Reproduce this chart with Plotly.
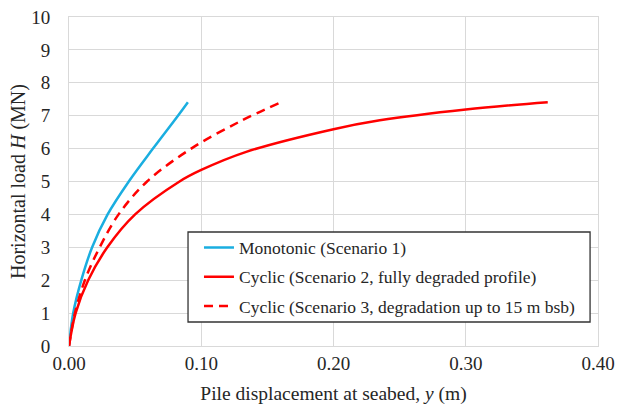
import plotly.graph_objects as go

# Monotonic (Scenario 1)
mono_y = [0, 0.0032, 0.0093, 0.0175, 0.0292, 0.0452, 0.0635, 0.0824, 0.0899]
mono_H = [0, 1.0, 2.0, 3.0, 4.0, 5.0, 6.0, 7.0, 7.41]

# Cyclic (Scenario 2, fully degraded profile)
cyc2_y = [0, 0.005, 0.0145, 0.029, 0.050, 0.0836, 0.100, 0.134, 0.200, 0.235, 0.300, 0.362]
cyc2_H = [0, 1.0, 2.0, 3.0, 4.0, 5.0, 5.35, 5.90, 6.59, 6.86, 7.19, 7.41]

# Cyclic (Scenario 3, degradation up to 15 m bsb)
cyc3_y = [0, 0.0045, 0.0120, 0.0232, 0.0375, 0.059, 0.0924, 0.129, 0.1585]
cyc3_H = [0, 1.0, 2.0, 3.0, 4.0, 5.0, 6.0, 6.82, 7.38]

x_ticks = [0, 0.1, 0.2, 0.3, 0.4]
x_ticklabels = ["0.00", "0.10", "0.20", "0.30", "0.40"]
y_ticks = list(range(0, 11))

FONT = "Liberation Serif, Times New Roman, serif"
TXT = "#262626"

fig = go.Figure()
fig.add_trace(go.Scatter(x=mono_y, y=mono_H, mode="lines", name="Monotonic (Scenario 1)",
                         legendgroup="a",
                         line=dict(color="#1AAEE0", width=2.5, shape="spline", smoothing=1.0)))
fig.add_trace(go.Scatter(x=cyc2_y, y=cyc2_H, mode="lines", name="Cyclic (Scenario 2, fully degraded profile)",
                         legendgroup="b",
                         line=dict(color="#FF0000", width=2.5, shape="spline", smoothing=1.0)))
fig.add_trace(go.Scatter(x=cyc3_y, y=cyc3_H, mode="lines", name="Cyclic (Scenario 3, degradation up to 15 m bsb)",
                         legendgroup="c",
                         line=dict(color="#FF0000", width=2.5, dash="9px,6px", shape="spline", smoothing=1.0)))

# legend frame
fig.add_shape(type="rect", xref="paper", yref="paper",
              x0=0.225, x1=0.985, y0=0.073, y1=0.3465,
              line=dict(color="#333333", width=1.3), fillcolor="white", layer="above")

grid = "#d9d9d9"
fig.update_layout(
    template="none",
    width=617, height=405,
    margin=dict(l=69, r=19, t=17, b=59),
    paper_bgcolor="white", plot_bgcolor="white",
    font=dict(family=FONT, size=19, color=TXT),
    showlegend=True,
    legend=dict(x=0.2457, y=0.354, xanchor="left", yanchor="top",
                bgcolor="rgba(0,0,0,0)", borderwidth=0,
                traceorder="grouped", tracegroupgap=3.5,
                font=dict(family=FONT, size=17.5, color=TXT)),
    xaxis=dict(range=[0, 0.4], tickvals=x_ticks, ticktext=x_ticklabels, automargin=False,
               showgrid=True, gridcolor=grid, gridwidth=1, ticklabeloverflow="allow",
               showline=True, linecolor=grid, linewidth=1, mirror=True, zeroline=False,
               ticks="", ticklen=0, tickfont=dict(family=FONT, size=19, color=TXT),
               title=dict(text="Pile displacement at seabed, <i>y</i> (m)", standoff=14,
                          font=dict(family=FONT, size=19.5, color=TXT))),
    yaxis=dict(range=[0, 10], tickvals=y_ticks, automargin=False,
               showgrid=True, gridcolor=grid, gridwidth=1, ticklabeloverflow="allow",
               showline=True, linecolor=grid, linewidth=1, mirror=True, zeroline=False,
               ticks="", ticklen=0, ticklabelstandoff=14,
               tickfont=dict(family=FONT, size=19, color=TXT),
               title=dict(text="Horizontal load <i>H</i> (MN)", standoff=0,
                          font=dict(family=FONT, size=20, color=TXT))),
)

fig.write_html("out.html",
               config={"displayModeBar": False},
               post_script="document.body.style.margin='0';document.body.style.overflow='hidden';")
